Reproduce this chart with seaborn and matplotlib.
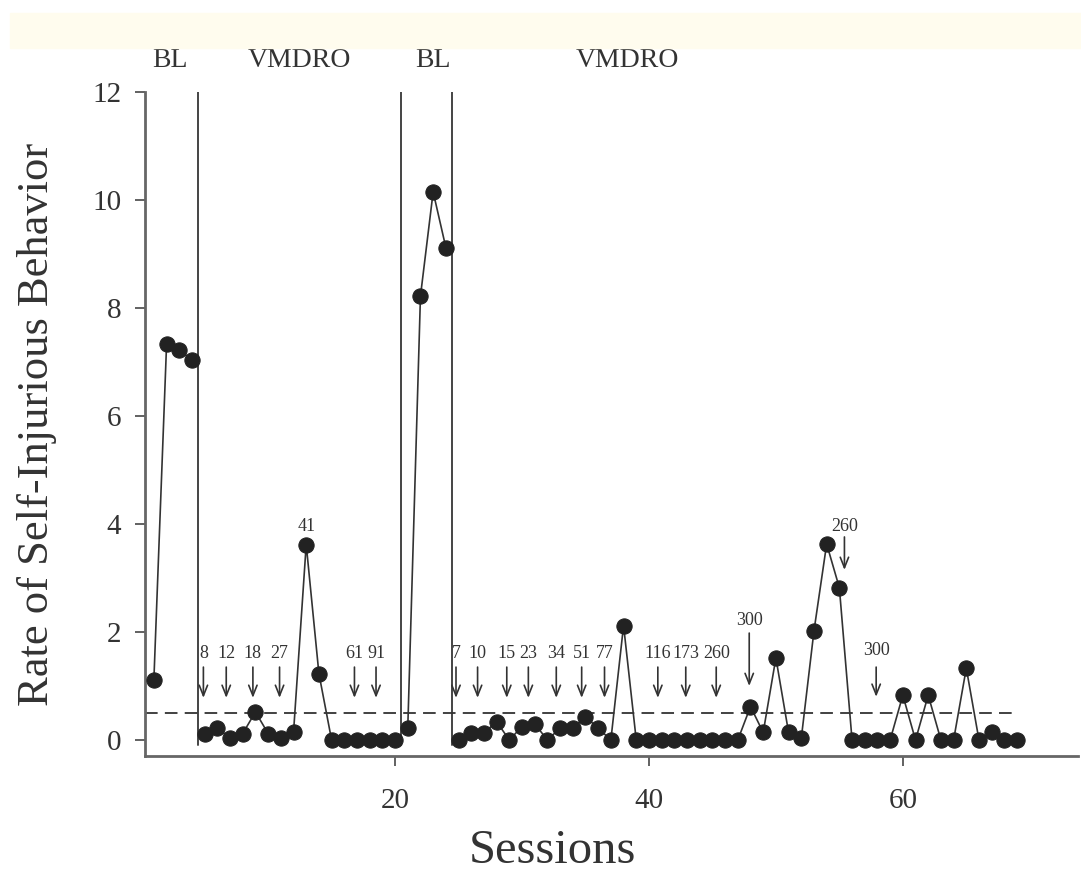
import numpy as np
import matplotlib
matplotlib.use("Agg")
import matplotlib.pyplot as plt
import pandas as pd
import seaborn as sns
from matplotlib.patches import Rectangle

# session data, one array per phase
bl1_sessions = [1, 2, 3, 4]
bl1_rate = [1.12, 7.33, 7.23, 7.03]
vm1_sessions = list(range(5, 21))
vm1_rate = [0.12, 0.23, 0.03, 0.12, 0.52, 0.12, 0.03, 0.14, 3.62, 1.23,
            0.0, 0.0, 0.0, 0.0, 0.0, 0.0]
bl2_sessions = [21, 22, 23, 24]
bl2_rate = [0.22, 8.22, 10.15, 9.12]
vm2_sessions = list(range(25, 70))
vm2_rate = [0.0, 0.13, 0.13, 0.34, 0.0, 0.25, 0.3, 0.0, 0.22, 0.22,
            0.43, 0.22, 0.0, 2.12, 0.0, 0.0, 0.0, 0.0, 0.0, 0.0,
            0.0, 0.0, 0.0, 0.62, 0.14, 1.52, 0.14, 0.03, 2.02, 3.63,
            2.82, 0.0, 0.0, 0.0, 0.0, 0.83, 0.0, 0.83, 0.0, 0.0,
            1.33, 0.0, 0.14, 0.0, 0.0]

phase_changes = [4.5, 20.5, 24.5]
phase_names = ["BL", "VMDRO", "BL", "VMDRO"]
phase_label_x = [2.3, 12.5, 23.0, 38.3]
criterion = 0.5

# interval annotations: position, label, arrow top, arrow tip, label y
arrow_x = [4.9, 6.7, 8.8, 10.9, 16.8, 18.5,
           24.8, 26.5, 28.8, 30.5, 32.7, 34.7, 36.5, 40.7, 42.9, 45.3,
           47.9, 55.4, 57.9]
arrow_text = ["8", "12", "18", "27", "61", "91",
              "7", "10", "15", "23", "34", "51", "77", "116", "173", "260",
              "300", "260", "300"]
arrow_top = [1.35] * 16 + [1.98, 3.76, 1.35]
arrow_tip = [0.78] * 16 + [1.0, 3.15, 0.8]
arrow_label_y = [1.61] * 16 + [2.22, 3.95, 1.65]

sns.set_style("ticks")
plt.rcParams["font.family"] = ["Liberation Serif", "DejaVu Serif"]

fig = plt.figure(figsize=(10.81, 8.73), dpi=100)
fig.patches.append(Rectangle((10 / 1081, 1 - 48 / 873), 1, 35 / 873,
                             transform=fig.transFigure, color="#fffcee", zorder=0))
ax = fig.add_axes([145 / 1081, 1 - 756 / 873, 933 / 1081, 664 / 873])

dot = "#222222"
for xs, ys in [(bl1_sessions, bl1_rate), (vm1_sessions, vm1_rate),
               (bl2_sessions, bl2_rate), (vm2_sessions, vm2_rate)]:
    sns.lineplot(x=xs, y=ys, ax=ax, color="#333333", linewidth=1.2, marker="o",
                 markersize=11, markerfacecolor=dot, markeredgecolor=dot,
                 sort=False, zorder=3)

for xc in phase_changes:
    ax.plot([xc, xc], [-0.1, 12], color="#444444", linewidth=1.4, zorder=2)

ax.plot([0.3, 68.7], [criterion, criterion], color="#333333", linewidth=1.3,
        dashes=(7, 4), zorder=2)

for name, px in zip(phase_names, phase_label_x):
    ax.text(px, 12.59, name, ha="center", va="center", fontsize=20,
            color="#333333", clip_on=False)

for x, t, top, tip, ly in zip(arrow_x, arrow_text, arrow_top, arrow_tip, arrow_label_y):
    ax.annotate("", xy=(x, tip), xytext=(x, top),
                arrowprops=dict(arrowstyle="->,head_length=0.75,head_width=0.3",
                                color="#333333", lw=1.2, shrinkA=0, shrinkB=0))
    ax.text(x, ly, t, ha="center", va="center", fontsize=13, color="#333333")

ax.text(13, 3.96, "41", ha="center", va="center", fontsize=13, color="#333333")

ax.set_xlim(0.3, 73.8)
ax.set_ylim(-0.296, 12)
ax.set_xticks([20, 40, 60])
ax.set_yticks([0, 2, 4, 6, 8, 10, 12])
ax.tick_params(axis="both", labelsize=21, colors="#555555", labelcolor="#333333",
               width=1.3, length=7)
ax.tick_params(axis="y", pad=10)
ax.tick_params(axis="x", pad=16)
for s in ["top", "right"]:
    ax.spines[s].set_visible(False)
for s in ["left", "bottom"]:
    ax.spines[s].set_color("#666666")
    ax.spines[s].set_linewidth(2)

ax.set_xlabel("Sessions", fontsize=35, color="#333333")
ax.xaxis.set_label_coords(0.437, -0.143)
ax.xaxis.label.set_verticalalignment("center")
ax.set_ylabel("Rate of Self-Injurious Behavior", fontsize=32, color="#333333")
ax.yaxis.set_label_coords(-0.116, 0.5)
ax.yaxis.label.set_verticalalignment("center")

fig.savefig("out.png", dpi=100)
